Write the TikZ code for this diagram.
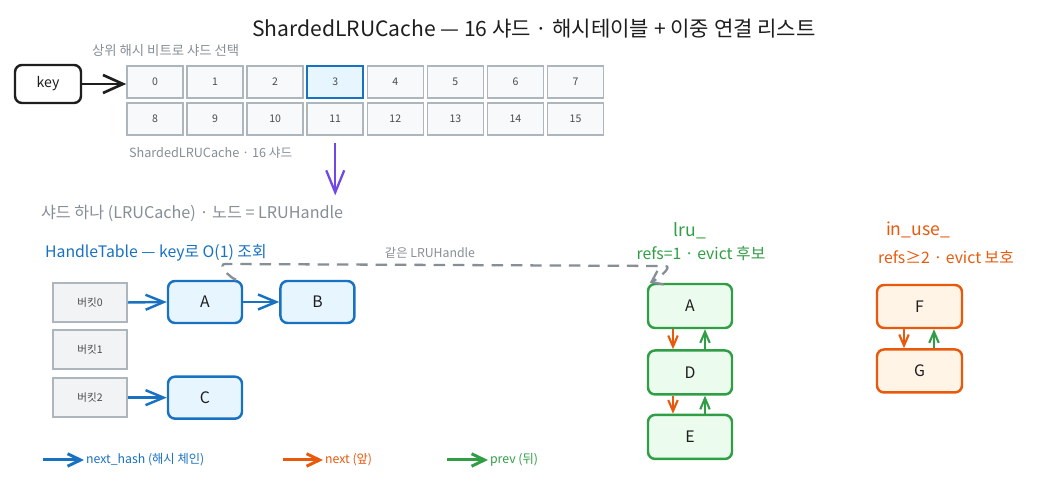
\documentclass[tikz,border=0pt]{standalone}
\usepackage{fontspec}
\setmainfont{Noto Sans CJK KR}
\usepackage{tikz}
\usetikzlibrary{arrows.meta, positioning}

\definecolor{ink}{HTML}{1E1E1E}
\definecolor{hblue}{HTML}{1971C2}
\definecolor{hbluefill}{HTML}{E7F5FF}
\definecolor{lgreen}{HTML}{2F9E44}
\definecolor{lgreenfill}{HTML}{EBFBEE}
\definecolor{uorange}{HTML}{E8590C}
\definecolor{uorangefill}{HTML}{FFF4E6}
\definecolor{notegray}{HTML}{868E96}
\definecolor{cellline}{HTML}{ADB5BD}
\definecolor{cellfill}{HTML}{F8F9FA}
\definecolor{bucketfill}{HTML}{F1F3F5}
\definecolor{shardviolet}{HTML}{7048E8}

\begin{document}
\begin{tikzpicture}[
  keybox/.style={rectangle, draw=ink, line width=1.4pt, rounded corners=4pt, minimum width=1.32cm, minimum height=0.76cm, font=\fontsize{8}{9}\selectfont, text=ink},
  cell/.style={rectangle, draw=cellline, line width=0.9pt, fill=cellfill, minimum width=1.12cm, minimum height=0.64cm, inner sep=0pt, font=\fontsize{6}{7}\selectfont, text=ink!80},
  bucket/.style={rectangle, draw=cellline, line width=0.9pt, fill=bucketfill, minimum width=1.48cm, minimum height=0.78cm, inner sep=0pt, font=\fontsize{6}{7}\selectfont, text=ink!80},
  hnode/.style={rectangle, draw=hblue, line width=1.4pt, fill=hbluefill, rounded corners=4pt, minimum width=1.48cm, minimum height=0.84cm, font=\fontsize{9}{10}\selectfont, text=ink},
  lnode/.style={hnode, draw=lgreen, fill=lgreenfill, minimum width=1.68cm, minimum height=0.88cm},
  unode/.style={hnode, draw=uorange, fill=uorangefill, minimum width=1.70cm, minimum height=0.86cm},
  note/.style={font=\fontsize{7.2}{8}\selectfont, text=notegray, inner sep=1pt},
  keyarr/.style={-{Straight Barb[length=4mm, width=3.6mm]}, line width=1.5pt, ink},
  hasharr/.style={-{Straight Barb[length=3.6mm, width=3mm]}, line width=1.4pt, hblue},
  nextarr/.style={-{Straight Barb[length=2.2mm, width=1.9mm]}, line width=1.2pt, uorange},
  prevarr/.style={-{Straight Barb[length=2.2mm, width=1.9mm]}, line width=1.2pt, lgreen},
  legarr/.style={-{Straight Barb[length=2.6mm, width=2.5mm]}, line width=1.7pt},
  shardarr/.style={-{Straight Barb[length=4.4mm, width=3.6mm]}, line width=1.3pt, shardviolet},
  samearr/.style={-{Straight Barb[length=2mm, width=3mm]}, line width=1.3pt, notegray, dash pattern=on 6.5pt off 4.5pt},
]
\useasboundingbox (0,0) rectangle (21,-9.74);

% ── TITLE ──
\node[font=\fontsize{12}{14}\selectfont, text=ink] (title) at (10.68,-0.58) {ShardedLRUCache — 16 샤드 · 해시테이블 + 이중 연결 리스트};

% ── SHARD ROUTING: key -> 16 shards ──
\node[note, font=\fontsize{7.6}{9}\selectfont, anchor=west] (pick) at (1.80,-1.02) {상위 해시 비트로 샤드 선택};
\node[keybox] (key) at (0.96,-1.68) {key};

\node[cell] (c0) at (3.10,-1.64) {0};
\node[cell, right=0.05cm of c0] (c1) {1};
\node[cell, right=0.05cm of c1] (c2) {2};
\node[cell, draw=hblue, fill=hbluefill, right=0.05cm of c2] (c3) {3};
\node[cell, right=0.05cm of c3] (c4) {4};
\node[cell, right=0.05cm of c4] (c5) {5};
\node[cell, right=0.05cm of c5] (c6) {6};
\node[cell, right=0.05cm of c6] (c7) {7};

\node[cell, below=0.07cm of c0] (c8) {8};
\node[cell, right=0.05cm of c8] (c9) {9};
\node[cell, right=0.05cm of c9] (c10) {10};
\node[cell, right=0.05cm of c10] (c11) {11};
\node[cell, right=0.05cm of c11] (c12) {12};
\node[cell, right=0.05cm of c12] (c13) {13};
\node[cell, right=0.05cm of c13] (c14) {14};
\node[cell, right=0.05cm of c14] (c15) {15};

\node[note, anchor=west] (shardcap) at (2.54,-3.06) {ShardedLRUCache · 16 샤드};

\draw[keyarr] (key.east) -- (key.east -| c0.west);

% shard 3 -> one shard below
\coordinate (shardtip) at ([yshift=-1.19cm]c11.south);
\draw[shardarr] ([yshift=-0.14cm]c11.south) -- (shardtip);

% ── ONE SHARD: HandleTable ──
\node[note, font=\fontsize{9.2}{10}\selectfont, anchor=west] (shardone) at (0.78,-4.26) {샤드 하나 (LRUCache) · 노드 = LRUHandle};
\node[anchor=west, inner sep=1pt, text=hblue, font=\fontsize{9}{10}\selectfont] (htab) at (0.86,-5.06) {HandleTable — key로 O(1) 조회};

\node[bucket] (b0) at (1.80,-6.05) {버킷0};
\node[bucket, below=0.13cm of b0] (b1) {버킷1};
\node[bucket, below=0.15cm of b1] (b2) {버킷2};

\node[hnode] (ha) at (4.10,-6.04) {A};
\node[hnode, right=0.72cm of ha] (hb) {B};
\node[hnode] (hc) at (ha |- b2) {C};

\draw[hasharr] (b0.east) -- (ha.west);
\draw[hasharr] (ha.east) -- (hb.west);
\draw[hasharr] (b2.east) -- (hc.west);

% ── LRU LIST (refs=1) ──
\node[text=lgreen, font=\fontsize{10}{12}\selectfont] (lru) at (13.80,-4.62) {lru\_};
\node[text=lgreen, font=\fontsize{9}{10}\selectfont] (lrurefs) at (14.02,-5.08) {refs=1 · evict 후보};

\node[lnode] (la) at (13.80,-6.12) {A};
\node[lnode, below=0.40cm of la] (ld) {D};
\node[lnode, below=0.36cm of ld] (le) {E};

\draw[nextarr] ([xshift=-0.34cm]la.south) -- ([xshift=-0.34cm]ld.north);
\draw[prevarr] ([xshift=0.30cm]ld.north) -- ([xshift=0.30cm]la.south);
\draw[nextarr] ([xshift=-0.34cm]ld.south) -- ([xshift=-0.34cm]le.north);
\draw[prevarr] ([xshift=0.30cm]le.north) -- ([xshift=0.30cm]ld.south);

% ── IN_USE LIST (refs>=2) ──
\node[text=uorange, font=\fontsize{10}{12}\selectfont] (inuse) at (18.36,-4.60) {in\_use\_};
\node[text=uorange, font=\fontsize{9}{10}\selectfont] (inuserefs) at (18.92,-5.14) {refs≥2 · evict 보호};

\node[unode] (uf) at (18.39,-6.13) {F};
\node[unode, below=0.38cm of uf] (ug) {G};

\draw[nextarr] ([xshift=-0.31cm]uf.south) -- ([xshift=-0.31cm]ug.north);
\draw[prevarr] ([xshift=0.29cm]ug.north) -- ([xshift=0.29cm]uf.south);

% ── SAME HANDLE (dashed, routed over the top) ──
\node[note, font=\fontsize{7}{8}\selectfont] (same) at (8.60,-5.06) {같은 LRUHandle};
\draw[samearr] ([xshift=0.62cm]ha.north) to[out=160, in=180] (4.50,-5.28) -- (13.30,-5.32) to[out=0, in=25] ([xshift=0.06cm]la.north west);

% ── LEGEND ──
\node[anchor=west, inner sep=1pt, text=hblue, font=\fontsize{7}{8}\selectfont] (lgh) at (1.68,-9.20) {next\_hash (해시 체인)};
\node[anchor=west, inner sep=1pt, text=uorange, font=\fontsize{7}{8}\selectfont] (lgn) at (6.46,-9.20) {next (앞)};
\node[anchor=west, inner sep=1pt, text=lgreen, font=\fontsize{7}{8}\selectfont] (lgp) at (9.76,-9.20) {prev (뒤)};
\coordinate (lgh0) at (0.86,-9.20);
\coordinate (lgn0) at (5.66,-9.20);
\coordinate (lgp0) at (8.94,-9.20);
\draw[legarr, hblue] (lgh0) -- (lgh.west);
\draw[legarr, uorange] (lgn0) -- (lgn.west);
\draw[legarr, lgreen] (lgp0) -- (lgp.west);

\end{tikzpicture}
\end{document}
